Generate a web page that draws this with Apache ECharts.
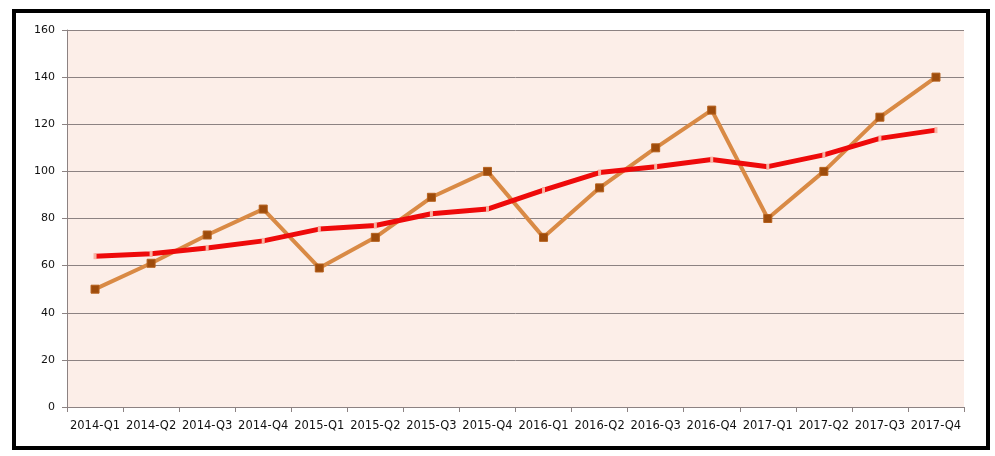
<!DOCTYPE html>
<html>
<head>
<meta charset="utf-8">
<script src="https://cdn.jsdelivr.net/npm/echarts@6/dist/echarts.min.js"></script>
<style>
  html, body { margin: 0; padding: 0; background: #fff; }
  #main { position: absolute; left: 0; top: 0; width: 995px; height: 456px; }
  #frame { position: absolute; left: 12px; top: 9px; width: 978px; height: 441px;
           box-sizing: border-box; border: 4px solid #000; pointer-events: none; }
</style>
</head>
<body>
<div id="main"></div>
<div id="frame"></div>
<script>
// quarters on the x axis
var categories = ['2014-Q1', '2014-Q2', '2014-Q3', '2014-Q4',
                  '2015-Q1', '2015-Q2', '2015-Q3', '2015-Q4',
                  '2016-Q1', '2016-Q2', '2016-Q3', '2016-Q4',
                  '2017-Q1', '2017-Q2', '2017-Q3', '2017-Q4'];
// orange line with square markers
var actualValues = [50, 61, 73, 84, 59, 72, 89, 100, 72, 93, 110, 126, 80, 100, 123, 140];
// red trend line
var trendValues = [64, 65, 67.5, 70.5, 75.5, 77, 82, 84, 92, 99.5, 102, 105, 102, 107, 114, 117.5];
var yTicks = [0, 20, 40, 60, 80, 100, 120, 140, 160];

var chart = echarts.init(document.getElementById('main'));

chart.setOption({
    animation: false,
    backgroundColor: '#fff',
    grid: {
        left: 67, right: 31, top: 30, bottom: 49,
        show: true, backgroundColor: '#FCEEE8', borderWidth: 0
    },
    xAxis: {
        type: 'category',
        data: categories,
        boundaryGap: true,
        axisLine: { lineStyle: { color: '#8c8282', width: 1 } },
        axisTick: { show: true, length: 5, interval: 0, lineStyle: { color: '#8c8282' } },
        axisLabel: { margin: 13, interval: 0, hideOverlap: false,
                     color: '#111', fontFamily: 'DejaVu Sans', fontSize: 11.5 }
    },
    yAxis: {
        type: 'value',
        min: yTicks[0],
        max: yTicks[yTicks.length - 1],
        interval: 20,
        axisLine: { show: true, lineStyle: { color: '#8c8282', width: 1 } },
        axisTick: { show: true, length: 5, lineStyle: { color: '#8c8282' } },
        splitLine: { lineStyle: { color: '#8c8282', width: 1 } },
        axisLabel: { margin: 12, color: '#111', fontFamily: 'DejaVu Sans', fontSize: 11 }
    },
    series: [{
        name: 'actual',
        type: 'line',
        data: actualValues,
        symbol: 'rect',
        symbolSize: 8,
        lineStyle: { color: '#D98A45', width: 4 },
        itemStyle: { color: '#9E4C0C', borderColor: '#B5601C', borderWidth: 1 },
        z: 2
    }, {
        name: 'trend',
        type: 'line',
        data: trendValues,
        symbol: 'rect',
        symbolSize: [3, 6],
        lineStyle: { color: '#EE0A0A', width: 5 },
        itemStyle: { color: '#F7B3A3' },
        z: 3
    }]
});
</script>
</body>
</html>
